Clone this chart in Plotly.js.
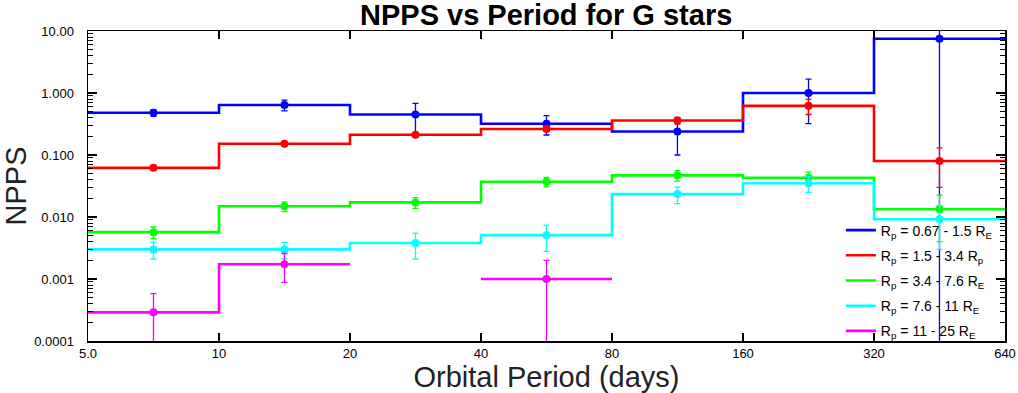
<!DOCTYPE html>
<html>
<head>
<meta charset="utf-8">
<script src="https://cdn.plot.ly/plotly-3.0.1.min.js"></script>
<style>html,body{margin:0;padding:0;background:#fff;}#chart{width:1018px;height:393px;}</style>
</head>
<body>
<div id="chart"></div>
<script>
// Period bin edges (days) and geometric bin centres
const binEdges = [5, 10, 20, 40, 80, 160, 320, 640];
const binCenters = [7.07, 14.14, 28.28, 56.57, 113.1, 226.3, 452.5];

// NPPS values per bin (null = empty bin) and symmetric errors
const blueVals  = [0.48, 0.64, 0.45, 0.32, 0.24, 1.0, 7.5];
const blueErr   = [0.06, 0.125, 0.23, 0.11, 0.14, 0.68, 8.0];
const redVals   = [0.062, 0.152, 0.212, 0.262, 0.36, 0.62, 0.080];
const redErr    = [0.004, 0.006, 0.012, 0.02, 0.045, 0.17, 0.05];
const greenVals = [0.0057, 0.0149, 0.0172, 0.037, 0.047, 0.043, 0.0133];
const greenErr  = [0.0012, 0.0027, 0.0034, 0.0065, 0.009, 0.01, 0.0093];
const cyanVals  = [0.0030, 0.0030, 0.0038, 0.0051, 0.0234, 0.035, 0.0092];
const cyanErr   = [0.0009, 0.0009, 0.0017, 0.0023, 0.007, 0.01, 0.0062];
const magVals   = [0.00029, 0.00173, null, 0.0010, null, null, null];
const magErr    = [0.00029, 0.00085, null, 0.0010, null, null, null];

const seriesNames = [
  'R<sub>p</sub> = 0.67 - 1.5 R<sub>E</sub>',
  'R<sub>p</sub> = 1.5 - 3.4 R<sub>p</sub>',
  'R<sub>p</sub> = 3.4 - 7.6 R<sub>E</sub>',
  'R<sub>p</sub> = 7.6 - 11 R<sub>E</sub>',
  'R<sub>p</sub> = 11 - 25 R<sub>E</sub>'
];
const seriesColors = ['#0000ff', '#ff0000', '#00ff00', '#00ffff', '#ff00ff'];

const xTickVals = [5, 10, 20, 40, 80, 160, 320, 640];
const xTickText = ['5.0', '10', '20', '40', '80', '160', '320', '640'];
const yTickVals = [0.0001, 0.001, 0.01, 0.1, 1, 10];
const yTickText = ['0.0001', '0.001', '0.010', '0.100', '1.000', '10.00'];

function stepLine(vals) {
  const xs = [], ys = [];
  for (let i = 0; i < vals.length; i++) {
    if (vals[i] === null) {
      if (ys.length && ys[ys.length - 1] !== null) { xs.push(null); ys.push(null); }
      continue;
    }
    xs.push(binEdges[i], binEdges[i + 1]);
    ys.push(vals[i], vals[i]);
  }
  return {xs, ys};
}

const allVals = [blueVals, redVals, greenVals, cyanVals, magVals];
const allErr = [blueErr, redErr, greenErr, cyanErr, magErr];

const traces = [];
allVals.forEach((v, k) => {
  const s = stepLine(v);
  traces.push({
    x: s.xs, y: s.ys, mode: 'lines', type: 'scatter',
    line: {color: seriesColors[k], width: 2.6},
    name: seriesNames[k], legendgroup: 'g' + k,
    connectgaps: false, hoverinfo: 'skip'
  });
});
allVals.forEach((v, k) => {
  const xs = [], ys = [], es = [];
  v.forEach((val, i) => { if (val !== null) { xs.push(binCenters[i]); ys.push(val); es.push(allErr[k][i]); } });
  traces.push({
    x: xs, y: ys, mode: 'markers', type: 'scatter',
    marker: {color: seriesColors[k], size: 8},
    error_y: {type: 'data', array: es, symmetric: true, color: seriesColors[k], thickness: 1.3, width: 3},
    showlegend: false, legendgroup: 'g' + k
  });
});

const layout = {
  width: 1018, height: 393,
  margin: {l: 88, r: 13, t: 31, b: 52},
  paper_bgcolor: '#ffffff', plot_bgcolor: '#ffffff',
  font: {family: 'Liberation Sans, Arial, sans-serif', color: '#000000'},
  title: {text: '<b>NPPS vs Period for G stars</b>', font: {size: 29, color: '#000'},
          x: 0.5365, xanchor: 'center', y: 0.963, yanchor: 'middle'},
  showlegend: true,
  legend: {x: 0.821, y: 0.408, xanchor: 'left', yanchor: 'top', bgcolor: 'rgba(0,0,0,0)',
           font: {size: 14, color: '#000'}, tracegroupgap: 4, traceorder: 'grouped'},
  xaxis: {
    type: 'log', range: [Math.log10(5), Math.log10(640)],
    tickvals: xTickVals, ticktext: xTickText,
    ticks: 'inside', ticklen: 8, tickwidth: 1.2, tickcolor: '#000',
    showline: true, linecolor: '#000', linewidth: 1.5, mirror: 'ticks',
    showgrid: false, zeroline: false,
    tickfont: {size: 13, color: '#000'},
    title: {text: 'Orbital Period (days)', font: {size: 29, color: '#222'}, standoff: 0}
  },
  yaxis: {
    type: 'log', range: [-4, 1],
    tickvals: yTickVals, ticktext: yTickText,
    ticks: 'inside', ticklen: 9, tickwidth: 1.2, tickcolor: '#000',
    minor: {ticks: 'inside', ticklen: 5, dtick: 'D1', tickcolor: '#000', tickwidth: 1, showgrid: false},
    showline: true, linecolor: '#000', linewidth: 1.5, mirror: 'ticks',
    showgrid: false, zeroline: false,
    tickfont: {size: 13, color: '#000'}, ticklabelstandoff: 10,
    title: {text: 'NPPS', font: {size: 29, color: '#222'}, standoff: 4}
  }
};

Plotly.newPlot('chart', traces, layout, {staticPlot: true, displayModeBar: false});
</script>
</body>
</html>
